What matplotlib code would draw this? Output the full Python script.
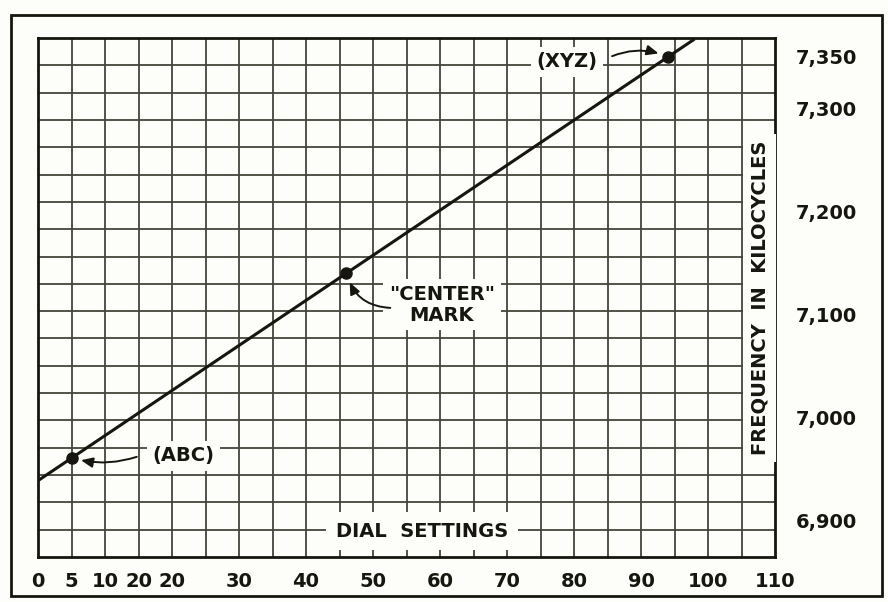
import numpy as np
import matplotlib
matplotlib.use("Agg")
import matplotlib.pyplot as plt
from matplotlib.patches import Rectangle

# dial calibration: straight line through the three check points
dial_ticks = [0, 5, 10, 15, 20, 30, 40, 50, 60, 70, 80, 90, 100, 110]
dial_tick_labels = ["0", "5", "10", "20", "20", "30", "40", "50", "60",
                    "70", "80", "90", "100", "110"]
freq_ticks = [6900, 7000, 7100, 7200, 7300, 7350]
freq_tick_labels = ["6,900", "7,000", "7,100", "7,200", "7,300", "7,350"]

line_dial = [0, 98]
line_freq = [6939, 7367]

point_names = ["(ABC)", "\"CENTER\"\nMARK", "(XYZ)"]
point_dial = [5, 46, 94]
point_freq = [6961, 7140, 7350]

ink = "#16160f"
grid_ink = "#45453a"
paper = "#fdfdfa"
font = "DejaVu Sans"

fig = plt.figure(figsize=(8.88, 6.02), dpi=100, facecolor=paper)
ax = fig.add_axes([38 / 888, 45 / 602, 737 / 888, 519 / 602])
ax.set_facecolor(paper)
ax.set_xlim(0, 110)
ax.set_ylim(6865, 7368)

# graph paper: 22 columns, 19 rows
for x in np.arange(5, 110, 5):
    ax.axvline(x, color=grid_ink, lw=1.3, zorder=1)
for y in np.linspace(0, 1, 20)[1:-1]:
    ax.axhline(6865 + y * (7368 - 6865), color=grid_ink, lw=1.3, zorder=1)

for s in ax.spines.values():
    s.set_linewidth(2.0)
    s.set_color(ink)

ax.plot(line_dial, line_freq, color=ink, lw=2.2, zorder=4, solid_capstyle="butt")
ax.plot(point_dial, point_freq, "o", color=ink, ms=8, zorder=5)

ax.set_xticks(dial_ticks)
ax.set_xticklabels(dial_tick_labels, fontsize=14, fontweight="bold",
                   family=font, color=ink)
ax.tick_params(axis="x", length=0, pad=11)

ax.yaxis.tick_right()
ax.set_yticks(freq_ticks)
ax.set_yticklabels(freq_tick_labels, fontsize=14, fontweight="bold",
                   family=font, color=ink)
ax.tick_params(axis="y", length=0, pad=15)

box = dict(facecolor=paper, edgecolor="none", pad=4)
txt = dict(fontsize=14, fontweight="bold", family=font, color=ink,
           ha="center", va="center", zorder=6)

ax.text(0.521, 0.050, "DIAL  SETTINGS", transform=ax.transAxes,
        bbox=dict(facecolor=paper, edgecolor="none", pad=7), **txt)
ax.text(0.979, 0.499, "FREQUENCY  IN  KILOCYCLES", transform=ax.transAxes,
        rotation=90, bbox=dict(facecolor=paper, edgecolor="none", pad=5), **txt)

# point labels with hand-drawn style arrows
label_pos = [(0.197, 0.195), (0.548, 0.486), (0.718, 0.954)]
arrow_start = [(0.134, 0.193), (0.478, 0.480), (0.779, 0.965)]
arrow_rad = [-0.15, -0.35, -0.2]
for name, px, py, pos, start, rad in zip(point_names, point_dial, point_freq,
                                         label_pos, arrow_start, arrow_rad):
    ax.text(pos[0], pos[1], name, transform=ax.transAxes, linespacing=1.1,
            bbox=box, **txt)
    ax.annotate("", xy=(px, py), xycoords="data",
                xytext=start, textcoords="axes fraction",
                arrowprops=dict(arrowstyle="-|>,head_length=0.7,head_width=0.3",
                                color=ink, lw=1.4, shrinkA=0, shrinkB=7,
                                connectionstyle=f"arc3,rad={rad}"),
                zorder=6)

# outer border of the sheet
fig.patches.append(Rectangle((11 / 888, 6 / 602), 871 / 888, 581 / 602,
                             transform=fig.transFigure, fill=False,
                             edgecolor=ink, lw=2.0))

fig.savefig("out.png", dpi=100, facecolor=paper)
